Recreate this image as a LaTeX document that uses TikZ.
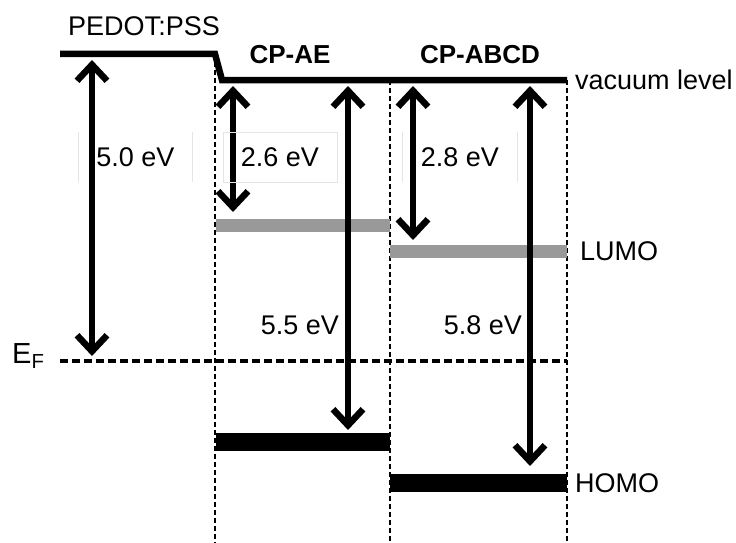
\documentclass[tikz,border=0pt]{standalone}
\usepackage{fontspec}
\setmainfont{Liberation Sans}
\usepackage{tikz}
\usetikzlibrary{arrows.meta, positioning}

\begin{document}
\begin{tikzpicture}[
    x=1pt, y=-1pt,
    lbl/.style={font=\fontsize{27}{32}\selectfont, inner sep=0pt},
    ttl/.style={font=\fontsize{26}{31}\selectfont\bfseries, inner sep=0pt},
    vac/.style={line width=6.5pt},
    guide/.style={line width=1.8pt, dash pattern=on 5pt off 3pt},
    fermi/.style={line width=3.2pt, dash pattern=on 8pt off 4pt},
    lumo/.style={line width=13pt, draw=black!40},
    homo/.style={line width=18pt},
    faint/.style={draw=black!10, line width=0.8pt},
    arrow/.style={{Straight Barb[length=16pt,width=30pt]}-{Straight Barb[length=16pt,width=30pt]}, line width=6.5pt}
]
\useasboundingbox (0,0) rectangle (736,543);

% levels
\coordinate (pedotL) at (60,54);
\coordinate (pedotR) at (215,54);
\coordinate (vacL) at (222,80);
\coordinate (vacR) at (567,80);
\coordinate (efL) at (60,361);
\coordinate (efR) at (567,361);
\coordinate (lumoAEL) at (216,225);
\coordinate (lumoAER) at (390,225);
\coordinate (lumoABL) at (390,251);
\coordinate (lumoABR) at (567,251);
\coordinate (homoAEL) at (216,442);
\coordinate (homoAER) at (390,442);
\coordinate (homoABL) at (390,483);
\coordinate (homoABR) at (567,483);

% column guides
\coordinate (g1top) at (215,62);
\coordinate (g1bot) at (215,543);
\coordinate (g2top) at (390,80);
\coordinate (g2bot) at (390,543);
\coordinate (g3top) at (567,80);
\coordinate (g3bot) at (567,543);
\draw[guide] (g1top) -- (g1bot);
\draw[guide] (g2top) -- (g2bot);
\draw[guide] (g3top) -- (g3bot);

\draw[fermi] (efL) -- (efR);
\draw[vac] (pedotL) -- (pedotR) -- (vacL) -- (vacR);
\draw[lumo] (lumoAEL) -- (lumoAER);
\draw[lumo] (lumoABL) -- (lumoABR);
\draw[homo] (homoAEL) -- (homoAER);
\draw[homo] (homoABL) -- (homoABR);

% arrow ends
\coordinate (wfTop) at (92,60);
\coordinate (wfBot) at (92,356);
\coordinate (eaAETop) at (233,86);
\coordinate (eaAEBot) at (233,212);
\coordinate (ipAETop) at (348,86);
\coordinate (ipAEBot) at (348,430);
\coordinate (eaABTop) at (413,86);
\coordinate (eaABBot) at (413,240);
\coordinate (ipABTop) at (530,86);
\coordinate (ipABBot) at (530,466);

\draw[arrow] (wfTop) -- (wfBot);
\draw[arrow] (eaAETop) -- (eaAEBot);
\draw[arrow] (ipAETop) -- (ipAEBot);
\draw[arrow] (eaABTop) -- (eaABBot);
\draw[arrow] (ipABTop) -- (ipABBot);

% labels
\node[lbl, minimum width=113pt, minimum height=50pt] (wf) at (135.5,157) {5.0 eV};
\draw[faint] (wf.north west) -- (wf.south west);
\draw[faint] (wf.north east) -- (wf.south east);
\node[lbl, faint, minimum width=114pt, minimum height=50pt] (eaAE) at (280,157) {2.6 eV};
\node[lbl, minimum width=114pt, minimum height=50pt] (eaAB) at (460,157) {2.8 eV};
\draw[faint] (eaAB.north west) -- (eaAB.south west);
\draw[faint] (eaAB.north east) -- (eaAB.south east);
\node[lbl] (ipAE) at (300,325) {5.5 eV};
\node[lbl] (ipAB) at (483,325) {5.8 eV};

\node[lbl] (pedot) at (144,26) {PEDOT:PSS};
\node[ttl] (cpae) at (290,55) {CP-AE};
\node[ttl] (cpabcd) at (480,55) {CP-ABCD};
\node[lbl, anchor=west, right=8pt of vacR] (vaclbl) {vacuum level};
\node[lbl, anchor=west, right=13pt of lumoABR] (lumolbl) {LUMO};
\node[lbl, anchor=west, right=8pt of homoABR] (homolbl) {HOMO};
\node[lbl, font=\fontsize{29}{34}\selectfont, anchor=base west] (ef) at (12,363) {E\textsubscript{F}};
\end{tikzpicture}
\end{document}
